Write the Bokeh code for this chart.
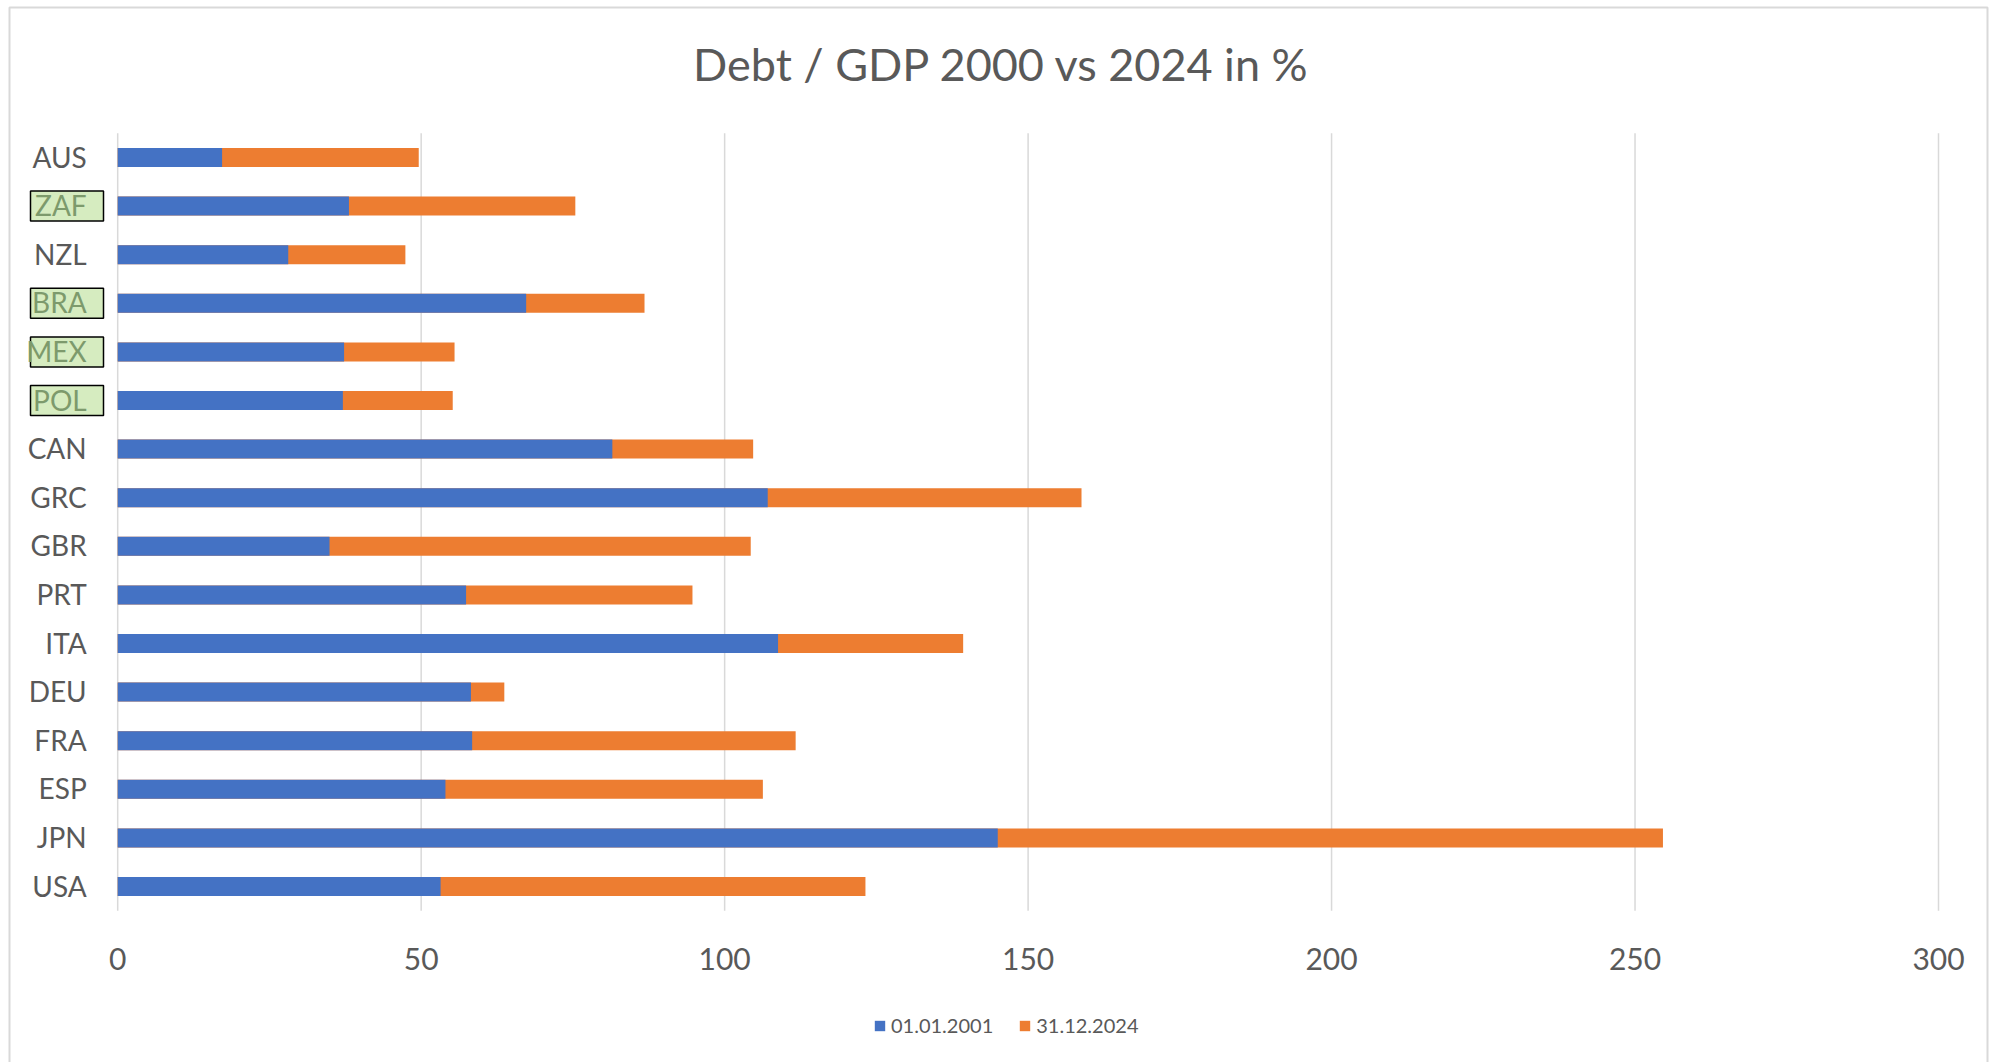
from bokeh.plotting import figure
from bokeh.models import Range1d, Legend, LegendItem, ColumnDataSource
from bokeh.core.properties import value
from bokeh.embed import file_html
from bokeh.resources import INLINE

# ---- data (top to bottom as shown) ----
countries = ["AUS", "ZAF", "NZL", "BRA", "MEX", "POL", "CAN", "GRC",
             "GBR", "PRT", "ITA", "DEU", "FRA", "ESP", "JPN", "USA"]
debt_2001 = [17.2, 38.1, 28.1, 67.3, 37.3, 37.1, 81.5, 107.1,
             34.9, 57.4, 108.8, 58.2, 58.4, 54.0, 145.0, 53.2]
debt_2024 = [49.6, 75.4, 47.4, 86.8, 55.5, 55.2, 104.7, 158.8,
             104.3, 94.7, 139.3, 63.7, 111.7, 106.3, 254.6, 123.2]
highlighted = ["ZAF", "BRA", "MEX", "POL"]
series_labels = ["01.01.2001", "31.12.2024"]
x_ticks = [0, 50, 100, 150, 200, 250, 300]
title_text = "Debt / GDP 2000 vs 2024 in %"

FONT = "Lato"
GRAY = "#595959"
BLUE = "#4472C4"
ORANGE = "#ED7D31"
GRID = "#d9d9d9"

# ---- pixel layout (canvas == plot frame) ----
W, H = 1993, 1062
ZERO_PX, MAX_PX = 117.2, 1938.0          # x = 0 and x = 300
ROW0_PX, ROW_STEP = 157.0, 48.6          # centre of first row, row pitch
ppu = (MAX_PX - ZERO_PX) / 300.0


def px_x(px):
    return (px - ZERO_PX) / ppu


def px_y(py):
    return (py - ROW0_PX) / ROW_STEP


p = figure(width=W, height=H, output_backend="svg", toolbar_location=None,
           x_range=Range1d(px_x(0), px_x(W)),
           y_range=Range1d(px_y(H), px_y(0)),
           min_border=0)
p.min_border_left = p.min_border_right = p.min_border_top = p.min_border_bottom = 0
p.xaxis.visible = False
p.yaxis.visible = False
p.grid.visible = False
p.outline_line_color = None
p.background_fill_color = "white"
p.border_fill_color = "white"

rows = list(range(len(countries)))
src = ColumnDataSource(dict(
    row=rows, country=countries, d2001=debt_2001, d2024=debt_2024,
    txt_color=["#7d9a6c" if c in highlighted else GRAY for c in countries],
))

# chart outer border
p.quad(left=px_x(9), right=px_x(1987), top=px_y(7), bottom=px_y(H + 10),
       fill_color=None, line_color=GRID, line_width=2)

# vertical gridlines (incl. value axis line at 0)
top_edge, bottom_edge = -0.5, len(countries) - 0.5
p.segment(x0=x_ticks, x1=x_ticks, y0=[top_edge] * len(x_ticks),
          y1=[bottom_edge] * len(x_ticks), line_color=GRID, line_width=1.5)

# bars (2024 value drawn full length, 2001 value overlaid)
bar_h = 0.39
r24 = p.hbar(y="row", left=0, right="d2024", height=bar_h, source=src,
             fill_color=ORANGE, line_color=None)
r01 = p.hbar(y="row", left=0, right="d2001", height=bar_h, source=src,
             fill_color=BLUE, line_color=None)

# highlight boxes behind selected category labels
hl_rows = [countries.index(c) for c in highlighted]
p.rect(x=px_x(66.5), y=hl_rows, width=73, height=30, width_units="screen",
       height_units="screen", fill_color="#d6ecc0", line_color="black",
       line_width=1.5)

# category labels
p.text(x=0, y="row", text="country", source=src, x_offset=-31, y_offset=-1,
       text_align="right", text_baseline="middle", text_font=value(FONT),
       text_font_size="28px", text_color="txt_color")

# x tick labels
p.text(x=x_ticks, y=[bottom_edge] * len(x_ticks), text=[str(t) for t in x_ticks],
       y_offset=48, text_align="center", text_baseline="middle",
       text_font=value(FONT), text_font_size="30px", text_color=GRAY)

# title
p.text(x=[px_x(1001)], y=[px_y(63)], text=[title_text], text_align="center",
       text_baseline="middle", text_font=value(FONT), text_font_size="45px",
       text_color=GRAY)

# legend
legend = Legend(items=[LegendItem(label=series_labels[0], renderers=[r01]),
                       LegendItem(label=series_labels[1], renderers=[r24])],
                orientation="horizontal", location=(873, H - 1037),
                padding=0, margin=0, spacing=25, label_standoff=5,
                glyph_width=13, glyph_height=13, label_height=14,
                label_text_font=FONT, label_text_font_size="20px",
                label_text_color=GRAY, border_line_color=None,
                background_fill_alpha=0)
p.add_layout(legend)

open("out.html", "w").write(file_html(p, INLINE))
